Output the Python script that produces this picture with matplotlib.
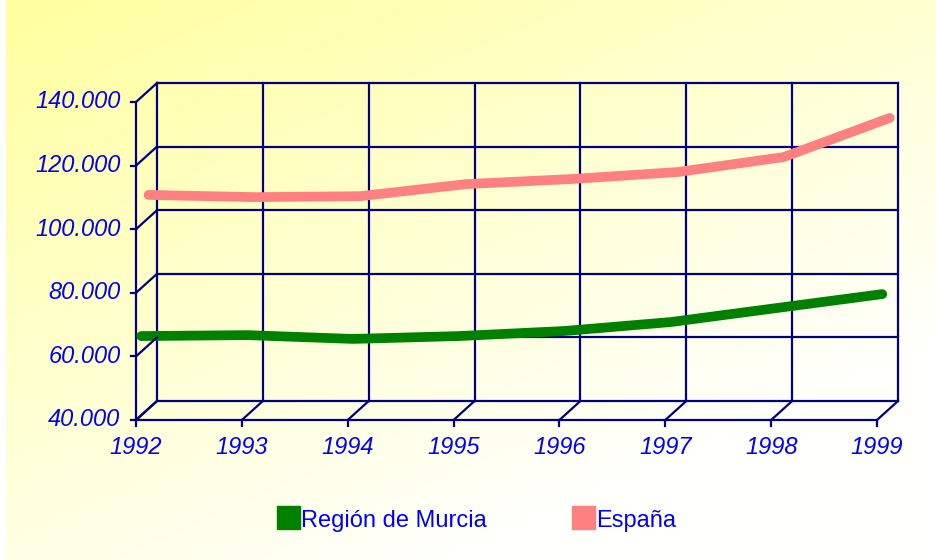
import numpy as np
import matplotlib
matplotlib.use('Agg')
import matplotlib.pyplot as plt
from matplotlib.transforms import ScaledTranslation

years = ['1992', '1993', '1994', '1995', '1996', '1997', '1998', '1999']
murcia = [64900, 65200, 64000, 64900, 66500, 69300, 73700, 78100]
espana = [107200, 106500, 106800, 110600, 112200, 114400, 119100, 131400]
y_ticks = [40000, 60000, 80000, 100000, 120000, 140000]
y_labels = ['40.000', '60.000', '80.000', '100.000', '120.000', '140.000']

navy = '#000080'
label_blue = '#0000FF'
plt.rcParams['font.family'] = ['Liberation Sans', 'DejaVu Sans']

W, H = 937, 560
fig = plt.figure(figsize=(W / 100, H / 100), dpi=100)

# background gradient, yellow top-left to near white bottom-right
bg = fig.add_axes([6 / W, 0, 1 - 6 / W, 1])
gx, gy = np.meshgrid(np.linspace(0, 1, 300), np.linspace(0, 1, 200))
t = np.clip(0.55 * gx + 0.75 * gy, 0, 1)
c0 = np.array([1.0, 1.0, 0.62])
c1 = np.array([1.0, 1.0, 0.985])
img = c0[None, None, :] * (1 - t[..., None]) + c1[None, None, :] * t[..., None]
bg.imshow(img, aspect='auto', extent=[0, 1, 0, 1], origin='upper')
bg.set_axis_off()

# front plane of the chart
ax = fig.add_axes([136 / W, (H - 420) / H, (877 - 136) / W, (420 - 102) / H])
ax.set_xlim(0, len(years) - 1)
ax.set_ylim(y_ticks[0], y_ticks[-1])
ax.set_axis_off()

depth_x, depth_y = 0.21, 0.19
back = ax.transData + ScaledTranslation(depth_x, depth_y, fig.dpi_scale_trans)

def shifted(f):
    return ax.transData + ScaledTranslation(depth_x * f, depth_y * f, fig.dpi_scale_trans)

xs = np.arange(len(years))
x0, x1 = xs[0], xs[-1]
ymin, ymax = y_ticks[0], y_ticks[-1]
lw = 1.6

# back wall grid
for v in y_ticks:
    ax.plot([x0, x1], [v, v], color=navy, lw=lw, transform=back, clip_on=False)
for x in xs:
    ax.plot([x, x], [ymin, ymax], color=navy, lw=lw, transform=back, clip_on=False)

# left wall depth lines and bottom floor depth lines
for v in y_ticks:
    fx0, fy0 = ax.transData.transform((x0, v))
    bx0, by0 = back.transform((x0, v))
    fig.add_artist(plt.Line2D([fx0 / W, bx0 / W], [fy0 / H, by0 / H],
                              color=navy, lw=lw))
for x in xs:
    fx0, fy0 = ax.transData.transform((x, ymin))
    bx0, by0 = back.transform((x, ymin))
    fig.add_artist(plt.Line2D([fx0 / W, bx0 / W], [fy0 / H, by0 / H],
                              color=navy, lw=lw))

# front axis lines
ax.plot([x0, x0], [ymin, ymax], color=navy, lw=lw, clip_on=False)
ax.plot([x0, x1], [ymin, ymin], color=navy, lw=lw, clip_on=False)

# ticks and labels
for v, lab in zip(y_ticks, y_labels):
    fx0, fy0 = ax.transData.transform((x0, v))
    fig.add_artist(plt.Line2D([fx0 / W, (fx0 - 5) / W], [fy0 / H, fy0 / H],
                              color=navy, lw=lw))
    ax.text(x0, v, lab, transform=ax.transData + ScaledTranslation(-0.155, 0, fig.dpi_scale_trans),
            ha='right', va='center', color=label_blue, fontsize=17, style='italic')
for x, lab in zip(xs, years):
    fx0, fy0 = ax.transData.transform((x, ymin))
    fig.add_artist(plt.Line2D([fx0 / W, fx0 / W], [fy0 / H, (fy0 - 6) / H],
                              color=navy, lw=lw))
    ax.text(x, ymin, lab, transform=ax.transData + ScaledTranslation(0, -0.165, fig.dpi_scale_trans),
            ha='center', va='top', color=label_blue, fontsize=17, style='italic')

# series
ax.plot(xs, murcia, color='#008000', lw=7, solid_capstyle='round',
        solid_joinstyle='round', transform=shifted(0.25), clip_on=False)
ax.plot(xs, espana, color='#FF8080', lw=7, solid_capstyle='round',
        solid_joinstyle='round', transform=shifted(0.6), clip_on=False)

# legend
fig.patches.append(plt.Rectangle((277 / W, (H - 529) / H), 23 / W, 23 / H,
                                 color='#008000', transform=fig.transFigure))
fig.text(301 / W, (H - 521) / H, 'Región de Murcia', color=label_blue,
         fontsize=17, va='center', ha='left')
fig.patches.append(plt.Rectangle((572 / W, (H - 529) / H), 23 / W, 23 / H,
                                 color='#FF8080', transform=fig.transFigure))
fig.text(596 / W, (H - 521) / H, 'España', color=label_blue,
         fontsize=17, va='center', ha='left')

fig.savefig('out.png', dpi=100)
